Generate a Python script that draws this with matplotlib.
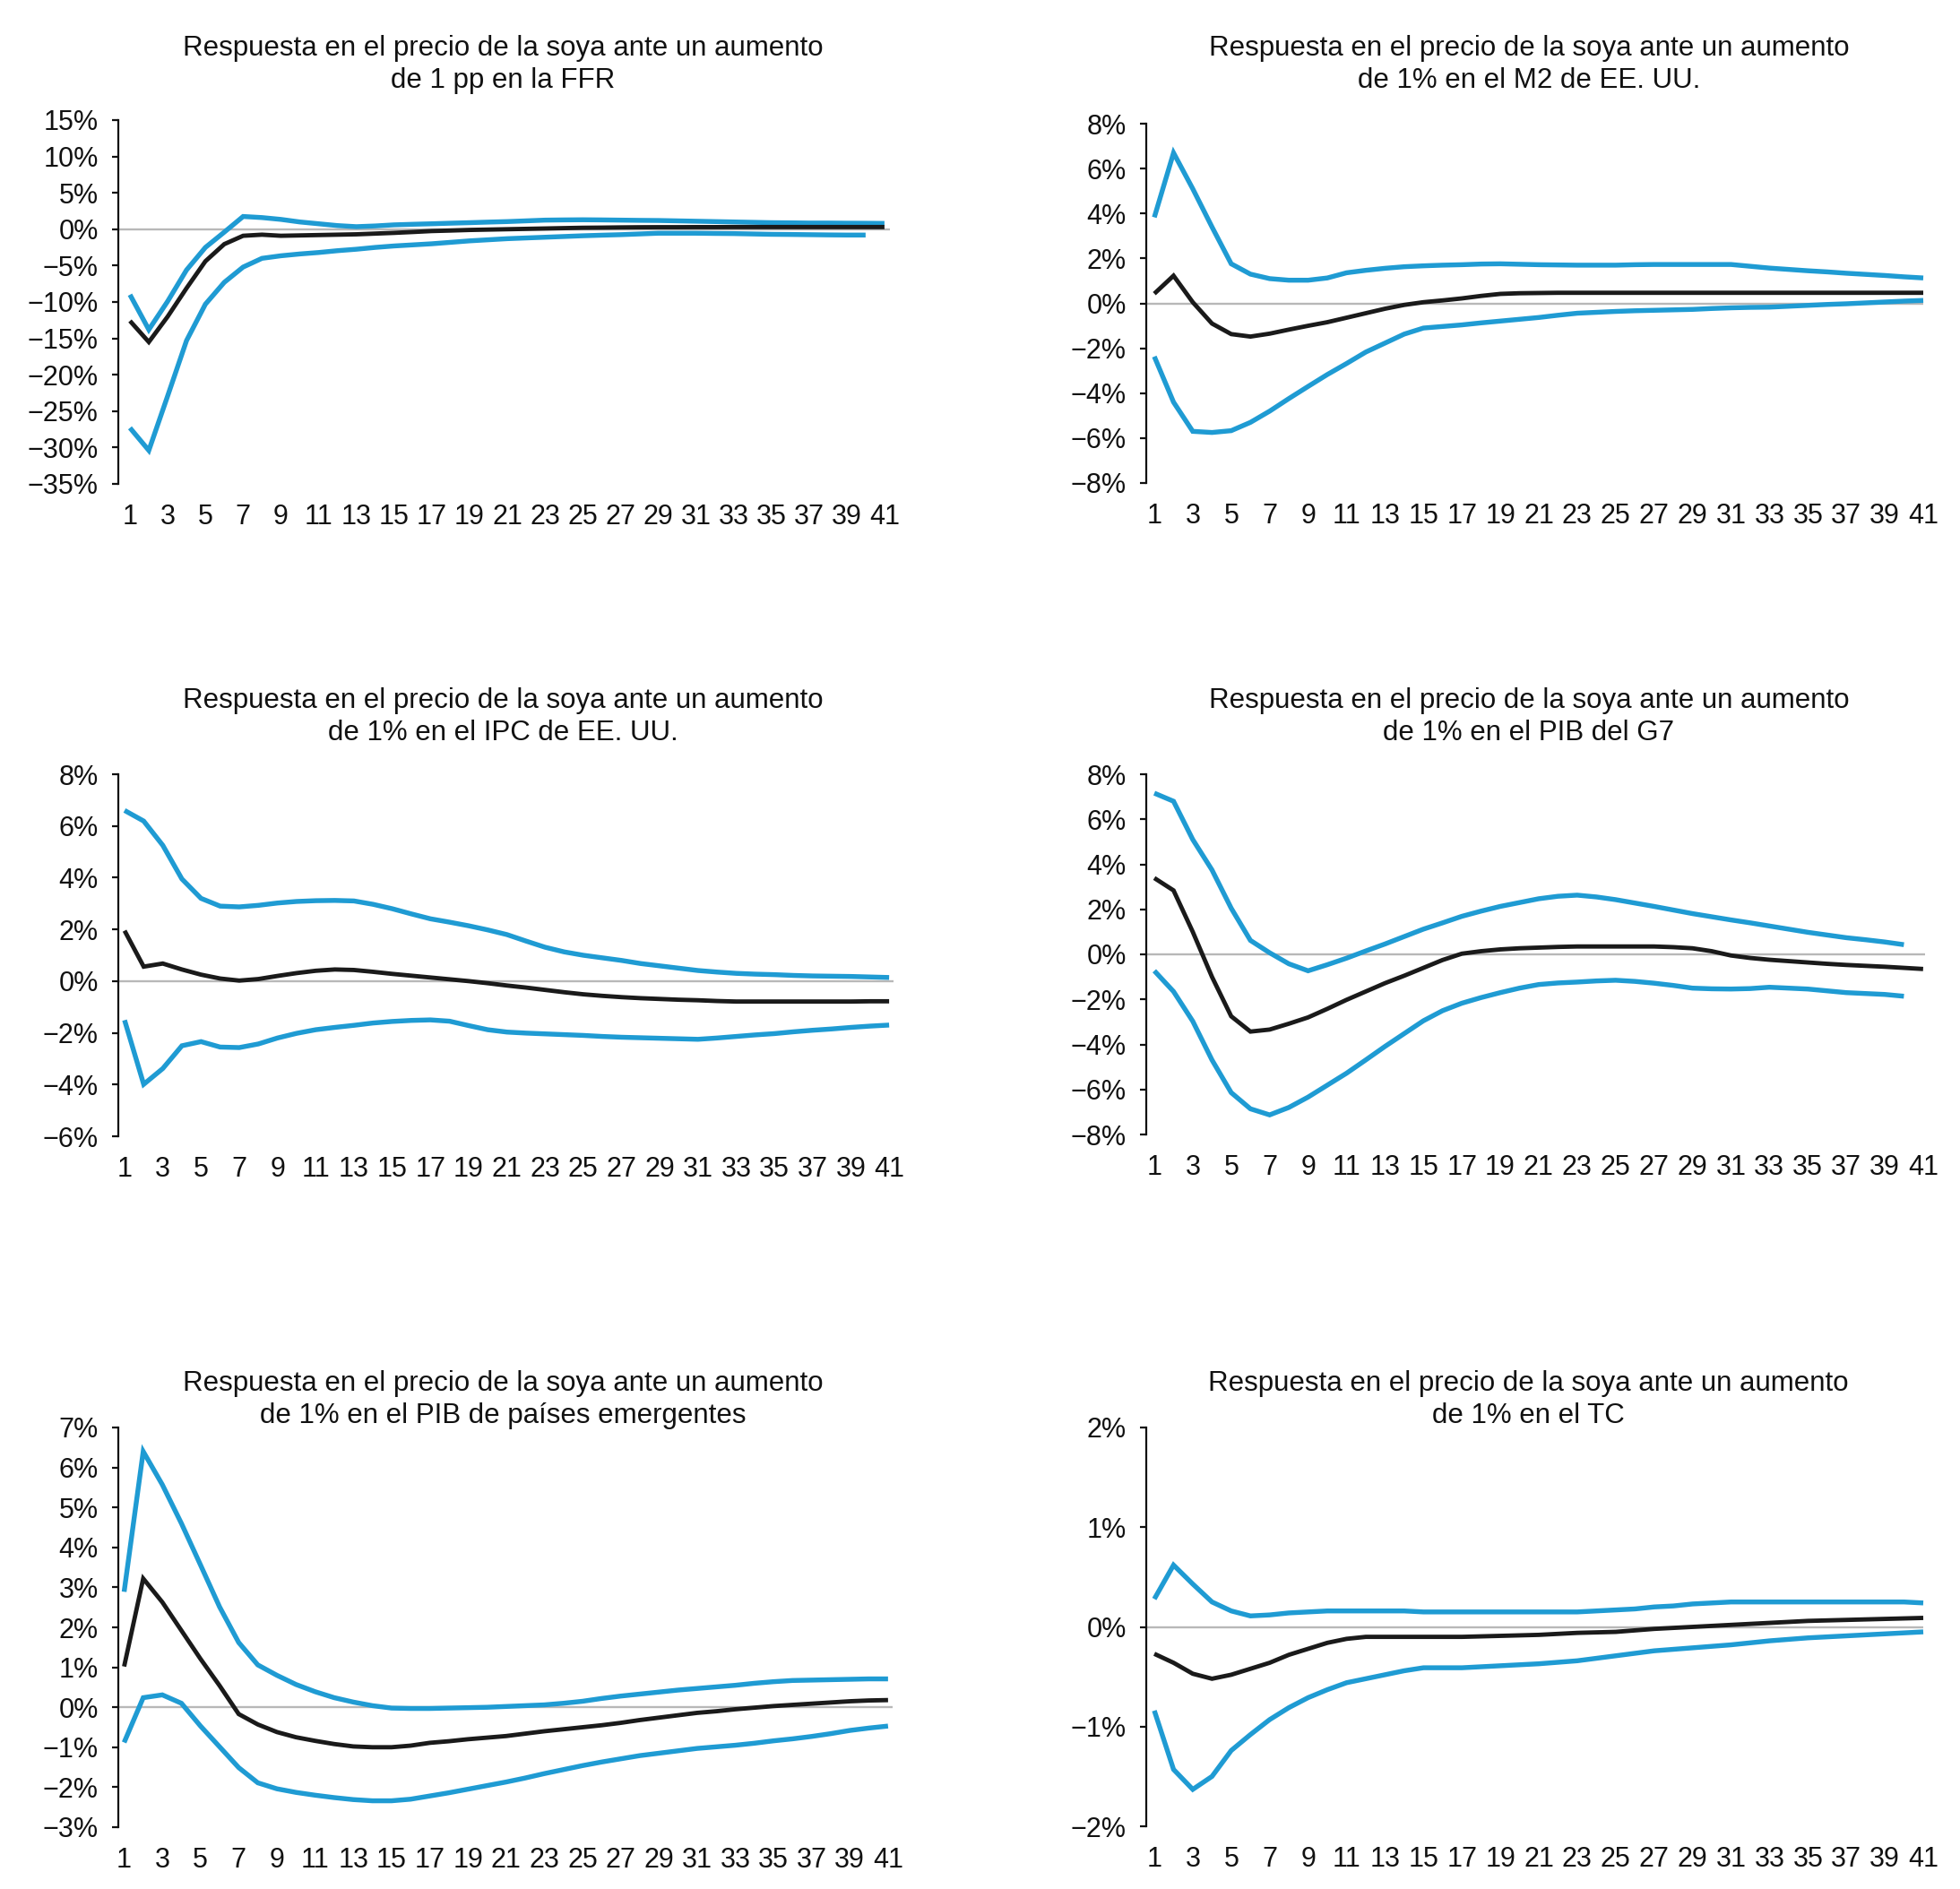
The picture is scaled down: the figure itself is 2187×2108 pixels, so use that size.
import matplotlib
matplotlib.use("Agg")
import matplotlib.pyplot as plt
import numpy as np

plt.rcParams['font.family'] = ['Liberation Sans', 'DejaVu Sans']

W, H = 2187, 2108
DPI = 100

periods = list(range(1, 42))
xtick_labels = [str(v) for v in range(1, 42, 2)]

titles = [
    "Respuesta en el precio de la soya ante un aumento\nde 1 pp en la FFR",
    "Respuesta en el precio de la soya ante un aumento\nde 1% en el M2 de EE. UU.",
    "Respuesta en el precio de la soya ante un aumento\nde 1% en el IPC de EE. UU.",
    "Respuesta en el precio de la soya ante un aumento\nde 1% en el PIB del G7",
    "Respuesta en el precio de la soya ante un aumento\nde 1% en el PIB de países emergentes",
    "Respuesta en el precio de la soya ante un aumento\nde 1% en el TC",
]

# ---- Panel 1: FFR ----
ffr_upper = [-9.0, -13.8, -9.9, -5.6, -2.5, -0.4, 1.75, 1.6, 1.35, 1.0, 0.75, 0.5, 0.35, 0.45, 0.6,
             0.68, 0.75, 0.83, 0.9, 0.98, 1.05, 1.15, 1.25, 1.28, 1.3, 1.28, 1.25, 1.22, 1.2, 1.15,
             1.1, 1.05, 1.0, 0.95, 0.9, 0.88, 0.85, 0.85, 0.83, 0.82, 0.8]
ffr_mid = [-12.6, -15.5, -12.0, -8.1, -4.4, -2.05, -0.9, -0.75, -0.9, -0.85, -0.8, -0.75, -0.7, -0.6, -0.5,
           -0.38, -0.25, -0.18, -0.1, -0.05, 0.0, 0.05, 0.1, 0.15, 0.2, 0.22, 0.25, 0.27, 0.28, 0.28,
           0.29, 0.29, 0.3, 0.3, 0.3, 0.3, 0.3, 0.3, 0.3, 0.3, 0.3]
ffr_lower = [-27.3, -30.4, -22.9, -15.3, -10.3, -7.3, -5.2, -4.0, -3.65, -3.4, -3.2, -2.95, -2.75, -2.5, -2.3,
             -2.15, -2.0, -1.8, -1.6, -1.45, -1.3, -1.2, -1.1, -1.0, -0.9, -0.82, -0.75, -0.65, -0.55, -0.55,
             -0.55, -0.58, -0.6, -0.65, -0.7, -0.72, -0.75, -0.78, -0.8, -0.8]

# ---- Panel 2: M2 ----
m2_upper = [3.83, 6.7, 5.1, 3.4, 1.76, 1.3, 1.1, 1.03, 1.03, 1.13, 1.36, 1.47, 1.56, 1.63, 1.67,
            1.7, 1.72, 1.75, 1.76, 1.74, 1.72, 1.71, 1.7, 1.7, 1.7, 1.72, 1.73, 1.73, 1.73, 1.73,
            1.73, 1.65, 1.57, 1.51, 1.45, 1.4, 1.34, 1.29, 1.24, 1.18, 1.13]
m2_mid = [0.43, 1.23, 0.05, -0.9, -1.37, -1.48, -1.35, -1.17, -1.0, -0.84, -0.64, -0.44, -0.24, -0.07, 0.05,
          0.13, 0.22, 0.33, 0.42, 0.45, 0.46, 0.47, 0.47, 0.47, 0.47, 0.47, 0.47, 0.47, 0.47, 0.47,
          0.47, 0.47, 0.47, 0.47, 0.47, 0.47, 0.47, 0.47, 0.47, 0.47, 0.47]
m2_lower = [-2.37, -4.4, -5.7, -5.75, -5.67, -5.3, -4.8, -4.24, -3.7, -3.17, -2.68, -2.17, -1.77, -1.37, -1.1,
            -1.03, -0.96, -0.87, -0.79, -0.71, -0.63, -0.53, -0.44, -0.4, -0.36, -0.33, -0.31, -0.29, -0.27, -0.23,
            -0.2, -0.18, -0.17, -0.13, -0.09, -0.05, -0.02, 0.02, 0.06, 0.1, 0.13]

# ---- Panel 3: IPC ----
ipc_upper = [6.6, 6.19, 5.25, 3.95, 3.2, 2.9, 2.87, 2.93, 3.02, 3.08, 3.11, 3.12, 3.1, 2.97, 2.8,
             2.6, 2.41, 2.28, 2.14, 1.98, 1.8, 1.55, 1.31, 1.13, 1.0, 0.9, 0.8, 0.68, 0.59, 0.5,
             0.41, 0.35, 0.3, 0.27, 0.25, 0.22, 0.2, 0.19, 0.18, 0.16, 0.14]
ipc_mid = [1.95, 0.56, 0.68, 0.45, 0.25, 0.1, 0.02, 0.08, 0.2, 0.31, 0.4, 0.45, 0.43, 0.36, 0.28,
           0.21, 0.14, 0.07, 0.0, -0.08, -0.17, -0.25, -0.34, -0.43, -0.51, -0.57, -0.62, -0.66, -0.69, -0.72,
           -0.74, -0.77, -0.79, -0.79, -0.79, -0.79, -0.79, -0.79, -0.79, -0.78, -0.78]
ipc_lower = [-1.51, -3.99, -3.38, -2.5, -2.34, -2.55, -2.57, -2.43, -2.2, -2.02, -1.88, -1.79, -1.71, -1.62, -1.56,
             -1.52, -1.5, -1.55, -1.72, -1.88, -1.97, -2.01, -2.04, -2.07, -2.1, -2.14, -2.17, -2.19, -2.21, -2.23,
             -2.25, -2.2, -2.14, -2.08, -2.03, -1.96, -1.9, -1.85, -1.79, -1.74, -1.7]

# ---- Panel 4: PIB G7 ----
g7_upper = [7.16, 6.8, 5.1, 3.75, 2.05, 0.62, 0.07, -0.42, -0.73, -0.46, -0.17, 0.15, 0.46, 0.79, 1.12,
            1.4, 1.69, 1.92, 2.13, 2.3, 2.47, 2.58, 2.63, 2.55, 2.43, 2.28, 2.13, 1.97, 1.81, 1.67,
            1.53, 1.4, 1.26, 1.12, 0.98, 0.86, 0.74, 0.65, 0.55, 0.43]
g7_mid = [3.39, 2.84, 1.0, -1.0, -2.75, -3.43, -3.34, -3.08, -2.8, -2.42, -2.02, -1.65, -1.28, -0.95, -0.6,
          -0.25, 0.03, 0.14, 0.22, 0.27, 0.3, 0.33, 0.35, 0.35, 0.35, 0.35, 0.35, 0.32, 0.27, 0.14,
          -0.05, -0.16, -0.24, -0.3, -0.36, -0.42, -0.47, -0.51, -0.55, -0.6, -0.65]
g7_lower = [-0.73, -1.65, -2.97, -4.69, -6.14, -6.86, -7.13, -6.8, -6.34, -5.81, -5.28, -4.69, -4.09, -3.52, -2.95,
            -2.5, -2.17, -1.92, -1.7, -1.5, -1.34, -1.27, -1.23, -1.18, -1.15, -1.2, -1.28, -1.38, -1.5, -1.53,
            -1.54, -1.52, -1.46, -1.5, -1.54, -1.62, -1.7, -1.74, -1.78, -1.86]

# ---- Panel 5: PIB emergentes ----
em_upper = [2.89, 6.4, 5.57, 4.6, 3.56, 2.51, 1.62, 1.06, 0.8, 0.57, 0.39, 0.24, 0.13, 0.04, -0.02,
            -0.03, -0.03, -0.02, -0.01, 0.0, 0.02, 0.04, 0.06, 0.1, 0.15, 0.22, 0.28, 0.33, 0.38, 0.43,
            0.47, 0.51, 0.55, 0.6, 0.64, 0.67, 0.68, 0.69, 0.7, 0.71, 0.71]
em_mid = [1.02, 3.22, 2.63, 1.92, 1.21, 0.54, -0.17, -0.43, -0.62, -0.75, -0.84, -0.92, -0.98, -1.0, -1.0,
          -0.96, -0.89, -0.85, -0.8, -0.76, -0.72, -0.66, -0.6, -0.55, -0.5, -0.45, -0.39, -0.32, -0.26, -0.2,
          -0.14, -0.1, -0.05, -0.01, 0.03, 0.06, 0.09, 0.12, 0.15, 0.17, 0.18]
em_lower = [-0.88, 0.24, 0.31, 0.1, -0.47, -0.99, -1.51, -1.89, -2.04, -2.13, -2.2, -2.26, -2.31, -2.34, -2.34,
            -2.3, -2.22, -2.14, -2.05, -1.96, -1.87, -1.77, -1.66, -1.56, -1.46, -1.37, -1.29, -1.21, -1.15, -1.09,
            -1.03, -0.99, -0.95, -0.9, -0.84, -0.79, -0.73, -0.66, -0.58, -0.52, -0.47]

# ---- Panel 6: TC ----
tc_upper = [0.28, 0.62, 0.43, 0.25, 0.16, 0.11, 0.12, 0.14, 0.15, 0.16, 0.16, 0.16, 0.16, 0.16, 0.15,
            0.15, 0.15, 0.15, 0.15, 0.15, 0.15, 0.15, 0.15, 0.16, 0.17, 0.18, 0.2, 0.21, 0.23, 0.24,
            0.25, 0.25, 0.25, 0.25, 0.25, 0.25, 0.25, 0.25, 0.25, 0.25, 0.24]
tc_mid = [-0.27, -0.36, -0.47, -0.52, -0.48, -0.42, -0.36, -0.28, -0.22, -0.16, -0.12, -0.1, -0.1, -0.1, -0.1,
          -0.1, -0.1, -0.095, -0.09, -0.085, -0.08, -0.07, -0.06, -0.055, -0.05, -0.035, -0.02, -0.01, 0.0, 0.01,
          0.02, 0.03, 0.04, 0.05, 0.06, 0.065, 0.07, 0.075, 0.08, 0.085, 0.09]
tc_lower = [-0.84, -1.43, -1.63, -1.5, -1.24, -1.08, -0.93, -0.81, -0.71, -0.63, -0.56, -0.52, -0.48, -0.44, -0.41,
            -0.41, -0.41, -0.4, -0.39, -0.38, -0.37, -0.355, -0.34, -0.315, -0.29, -0.265, -0.24, -0.225, -0.21, -0.195,
            -0.18, -0.16, -0.14, -0.125, -0.11, -0.1, -0.09, -0.08, -0.07, -0.06, -0.05]

series = [
    (ffr_upper, ffr_mid, ffr_lower),
    (m2_upper, m2_mid, m2_lower),
    (ipc_upper, ipc_mid, ipc_lower),
    (g7_upper, g7_mid, g7_lower),
    (em_upper, em_mid, em_lower),
    (tc_upper, tc_mid, tc_lower),
]

y_ranges = [(-35, 15, 5), (-8, 8, 2), (-6, 8, 2), (-8, 8, 2), (-3, 7, 1), (-2, 2, 1)]

# layout in pixels: left, right, top, bottom, xlim
layout = [
    (132, 993, 134, 540, (0.382, 41.29)),
    (1279, 2146, 138, 539, (0.58, 41.0)),
    (132, 997, 864, 1268, (0.672, 41.23)),
    (1279, 2148, 864, 1266, (0.58, 41.1)),
    (132, 996, 1593, 2039, (0.695, 41.24)),
    (1279, 2146, 1593, 2038, (0.58, 41.0)),
]
title_pos = [(561, 72), (1706, 72), (561, 800), (1706, 800), (561, 1562), (1705, 1562)]

BLUE = '#1F9BD3'
BLACK = '#1A1A1A'
GRAY = '#B8B8B8'

fig = plt.figure(figsize=(W / DPI, H / DPI), dpi=DPI)

for i in range(6):
    left, right, top, bottom, xl = layout[i]
    ax = fig.add_axes([left / W, 1 - bottom / H, (right - left) / W, (bottom - top) / H])
    up, mid, lo = series[i]
    ax.axhline(0, color=GRAY, lw=1.7, zorder=1)
    for vals, col, lw in ((up, BLUE, 3.9), (lo, BLUE, 3.9), (mid, BLACK, 3.5)):
        ax.plot(periods[:len(vals)], vals, color=col, lw=lw, solid_capstyle='butt',
                solid_joinstyle='miter', clip_on=False, zorder=3)
    y0, y1, step = y_ranges[i]
    ax.set_ylim(y0, y1)
    ax.set_xlim(*xl)
    yt = np.arange(y0, y1 + step / 2, step)
    ax.set_yticks(yt)
    ax.set_yticklabels([f"{int(v)}%".replace('-', '\u2212') for v in yt])
    ax.set_xticks(list(range(1, 42, 2)))
    ax.set_xticklabels(xtick_labels)
    for s in ('top', 'right', 'bottom'):
        ax.spines[s].set_visible(False)
    ax.spines['left'].set_linewidth(1.6)
    ax.spines['left'].set_color('#111111')
    ax.tick_params(axis='y', direction='out', length=5, width=1.6, pad=11, labelsize=22, colors='#111111')
    ax.tick_params(axis='x', length=0, pad=16, labelsize=22, colors='#111111')
    ax.set_facecolor('none')
    tx, ty = title_pos[i]
    fig.text(tx / W, 1 - ty / H, titles[i], ha='center', va='center', fontsize=22.5,
             linespacing=1.25, color='#111111')

fig.savefig('out.png', dpi=DPI, facecolor='white')
